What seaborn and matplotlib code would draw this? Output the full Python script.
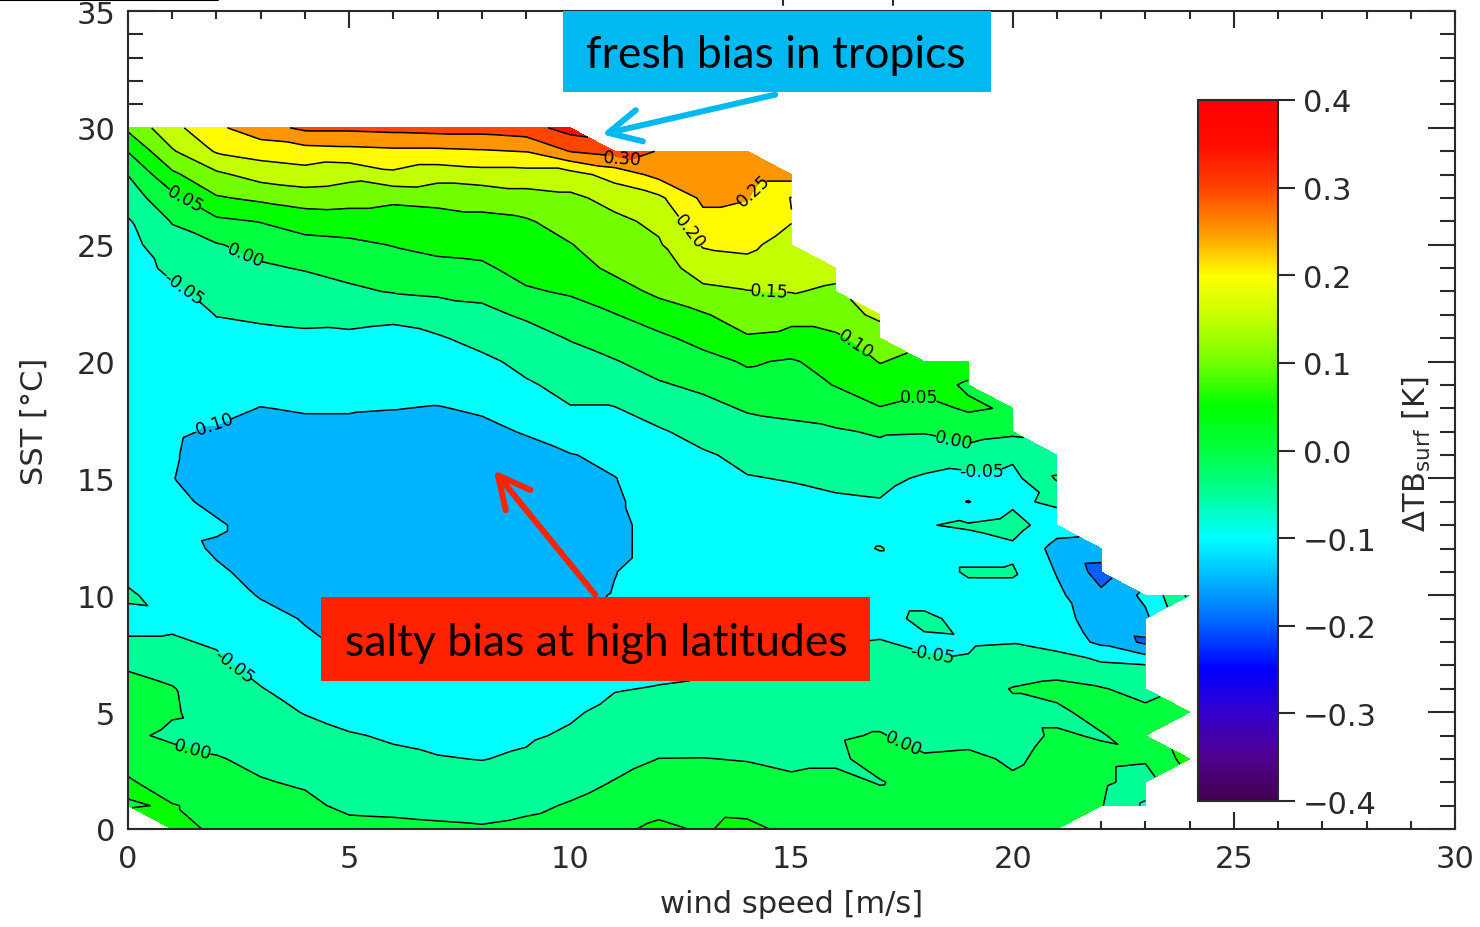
import numpy as np
import matplotlib
matplotlib.use("Agg")
import matplotlib.pyplot as plt
import matplotlib.tri as mtri
from matplotlib.colors import Normalize
from matplotlib.cm import ScalarMappable
from matplotlib.lines import Line2D
from matplotlib.patches import Rectangle, FancyArrowPatch, ArrowStyle
import seaborn as sns

nan = np.nan

# ---------------- data ----------------
wind_speed = list(range(25))          # m/s grid
sst = list(range(31))                 # degC grid

# Delta TB_surf [K] per wind-speed column, SST = 0 .. 30
dtb_w00 = [nan, 0.048, 0.055, 0.035, 0.01, 0.03, 0.015, -0.005, -0.045, -0.065, -0.042, -0.065, -0.075, -0.08, -0.08, -0.085, -0.085, -0.085, -0.085, -0.08, -0.08, -0.08, -0.075, -0.075, -0.07, -0.065, -0.055, -0.025, 0.001, 0.052, 0.11]
dtb_w01 = [0.07, 0.052, 0.03, 0.02, -0.01, 0.005, 0.003, -0.02, -0.045, -0.06, -0.075, -0.08, -0.085, -0.09, -0.09, -0.099, -0.097, -0.095, -0.09, -0.085, -0.08, -0.075, -0.07, -0.058, -0.04, -0.02, 0.003, 0.035, 0.09, 0.145, 0.185]
dtb_w02 = [0.04, 0.04, 0.025, 0.003, -0.015, -0.02, -0.03, -0.04, -0.055, -0.075, -0.085, -0.095, -0.105, -0.095, -0.11, -0.115, -0.115, -0.104, -0.09, -0.08, -0.07, -0.06, -0.049, -0.035, -0.02, -0.003, 0.04, 0.095, 0.14, 0.205, 0.24]
dtb_w03 = [0.035, 0.02, 0.003, -0.01, -0.025, -0.035, -0.048, -0.065, -0.08, -0.09, -0.102, -0.11, -0.115, -0.115, -0.12, -0.12, -0.12, -0.115, -0.101, -0.085, -0.07, -0.058, -0.045, -0.025, -0.006, 0.015, 0.052, 0.11, 0.17, 0.22, 0.28]
dtb_w04 = [0.025, 0.01, -0.005, -0.02, -0.035, -0.052, -0.07, -0.085, -0.095, -0.102, -0.115, -0.12, -0.12, -0.12, -0.12, -0.12, -0.115, -0.11, -0.097, -0.08, -0.07, -0.055, -0.043, -0.02, 0.003, 0.035, 0.07, 0.125, 0.18, 0.23, 0.31]
dtb_w05 = [0.015, -0.01, -0.02, -0.035, -0.048, -0.06, -0.075, -0.09, -0.105, -0.115, -0.12, -0.125, -0.125, -0.125, -0.125, -0.125, -0.12, -0.11, -0.097, -0.08, -0.07, -0.056, -0.04, -0.008, 0.015, 0.04, 0.075, 0.12, 0.165, 0.235, 0.31]
dtb_w06 = [0.012, -0.012, -0.03, -0.045, -0.053, -0.07, -0.08, -0.09, -0.11, -0.12, -0.125, -0.13, -0.13, -0.13, -0.13, -0.125, -0.12, -0.115, -0.099, -0.085, -0.075, -0.06, -0.043, 0.003, 0.027, 0.052, 0.075, 0.11, 0.19, 0.24, 0.315]
dtb_w07 = [0.008, -0.015, -0.035, -0.048, -0.06, -0.07, -0.08, -0.09, -0.11, -0.12, -0.125, -0.13, -0.13, -0.13, -0.13, -0.13, -0.12, -0.115, -0.102, -0.085, -0.07, -0.055, -0.025, 0.008, 0.04, 0.06, 0.08, 0.115, 0.17, 0.24, 0.32]
dtb_w08 = [0.005, -0.02, -0.035, -0.051, -0.06, -0.07, -0.08, -0.09, -0.108, -0.12, -0.125, -0.13, -0.135, -0.135, -0.13, -0.13, -0.12, -0.11, -0.095, -0.075, -0.06, -0.035, -0.012, 0.012, 0.043, 0.065, 0.09, 0.115, 0.18, 0.245, 0.32]
dtb_w09 = [0.012, -0.01, -0.03, -0.045, -0.055, -0.065, -0.075, -0.09, -0.105, -0.115, -0.12, -0.125, -0.13, -0.13, -0.13, -0.125, -0.115, -0.097, -0.08, -0.055, -0.038, -0.02, 0.007, 0.045, 0.065, 0.08, 0.095, 0.13, 0.18, 0.252, 0.33]
dtb_w10 = [0.02, 0.004, -0.016, -0.03, -0.045, -0.055, -0.07, -0.085, -0.101, -0.105, -0.11, -0.12, -0.125, -0.125, -0.125, -0.12, -0.102, -0.075, -0.052, -0.038, -0.02, 0.003, 0.03, 0.055, 0.08, 0.098, 0.12, 0.14, 0.18, 0.302, 0.37]
dtb_w11 = [0.04, 0.02, 0.002, -0.015, -0.03, -0.04, -0.052, -0.065, -0.08, -0.095, -0.098, -0.101, -0.11, -0.11, -0.105, -0.101, -0.09, -0.07, -0.052, -0.025, -0.003, 0.025, 0.048, 0.08, 0.11, 0.125, 0.14, 0.165, 0.22, 0.32, nan]
dtb_w12 = [0.06, 0.035, 0.02, 0.0005, -0.02, -0.035, -0.048, -0.06, -0.07, -0.08, -0.085, -0.085, -0.085, -0.085, -0.085, -0.085, -0.07, -0.055, -0.03, -0.005, 0.02, 0.04, 0.075, 0.11, 0.13, 0.145, 0.16, 0.19, 0.265, 0.298, nan]
dtb_w13 = [0.045, 0.035, 0.02, 0.001, -0.02, -0.03, -0.045, -0.055, -0.07, -0.08, -0.085, -0.085, -0.085, -0.085, -0.08, -0.07, -0.055, -0.035, -0.015, 0.01, 0.035, 0.065, 0.095, 0.14, 0.17, 0.205, 0.235, 0.26, 0.27, 0.28, nan]
dtb_w14 = [0.065, 0.03, 0.015, -0.002, -0.015, -0.025, -0.035, -0.048, -0.065, -0.08, -0.085, -0.085, -0.08, -0.075, -0.065, -0.052, -0.04, -0.02, 0.005, 0.035, 0.055, 0.095, 0.125, 0.148, 0.185, 0.21, 0.235, 0.252, 0.27, 0.28, nan]
dtb_w15 = [0.035, 0.025, 0.008, -0.01, -0.015, -0.02, -0.03, -0.045, -0.06, -0.075, -0.08, -0.08, -0.075, -0.07, -0.06, -0.048, -0.03, -0.01, 0.01, 0.03, 0.045, 0.09, 0.11, 0.152, 0.165, 0.18, 0.202, 0.198, 0.27, nan, nan]
dtb_w16 = [0.035, 0.03, 0.015, -0.01, -0.005, -0.015, -0.025, -0.035, -0.052, -0.07, -0.08, -0.075, -0.065, -0.07, -0.055, -0.042, -0.025, -0.005, 0.025, 0.052, 0.07, 0.09, 0.13, 0.145, 0.16, nan, nan, nan, nan, nan, nan]
dtb_w17 = [0.03, 0.02, -0.003, 0.02, 0.003, -0.015, -0.025, -0.035, -0.048, -0.065, -0.07, -0.068, -0.048, -0.065, -0.052, -0.04, -0.015, 0.005, 0.048, 0.075, 0.102, 0.125, 0.16, nan, nan, nan, nan, nan, nan, nan, nan]
dtb_w18 = [0.03, 0.025, 0.02, 0.005, -0.015, -0.02, -0.03, -0.04, -0.058, -0.04, -0.07, -0.07, -0.07, -0.052, -0.07, -0.055, -0.03, 0.003, 0.035, 0.065, 0.085, nan, nan, nan, nan, nan, nan, nan, nan, nan, nan]
dtb_w19 = [0.03, 0.025, 0.02, 0.008, -0.012, -0.01, -0.02, -0.045, -0.055, -0.065, -0.065, -0.045, -0.07, -0.045, -0.102, -0.065, -0.02, 0.02, 0.056, 0.045, 0.07, nan, nan, nan, nan, nan, nan, nan, nan, nan, nan]
dtb_w20 = [0.03, 0.02, 0.005, -0.005, -0.01, -0.008, 0.002, -0.025, -0.052, -0.07, -0.065, -0.045, -0.06, -0.03, -0.06, -0.065, -0.04, 0.01, 0.045, nan, nan, nan, nan, nan, nan, nan, nan, nan, nan, nan, nan]
dtb_w21 = [0.03, 0.02, 0.015, 0.01, 0.004, -0.008, 0.012, -0.02, -0.07, -0.085, -0.09, -0.103, -0.115, -0.08, -0.04, 0.005, -0.03, nan, nan, nan, nan, nan, nan, nan, nan, nan, nan, nan, nan, nan, nan]
dtb_w22 = [nan, 0.003, 0.01, 0.01, -0.003, 0.015, 0.003, -0.04, -0.11, -0.12, -0.14, -0.17, -0.12, nan, nan, nan, nan, nan, nan, nan, nan, nan, nan, nan, nan, nan, nan, nan, nan, nan, nan]
dtb_w23 = [nan, -0.058, -0.02, 0.005, 0.02, 0.01, -0.015, -0.048, -0.16, -0.11, -0.09, nan, nan, nan, nan, nan, nan, nan, nan, nan, nan, nan, nan, nan, nan, nan, nan, nan, nan, nan, nan]
dtb_w24 = [nan, nan, nan, 0.07, nan, 0.03, nan, nan, nan, nan, 0.01, nan, nan, nan, nan, nan, nan, nan, nan, nan, nan, nan, nan, nan, nan, nan, nan, nan, nan, nan, nan]

dtb_columns = [dtb_w00, dtb_w01, dtb_w02, dtb_w03, dtb_w04, dtb_w05, dtb_w06, dtb_w07,
               dtb_w08, dtb_w09, dtb_w10, dtb_w11, dtb_w12, dtb_w13, dtb_w14, dtb_w15,
               dtb_w16, dtb_w17, dtb_w18, dtb_w19, dtb_w20, dtb_w21, dtb_w22, dtb_w23, dtb_w24]

contour_levels = [-0.20, -0.15, -0.10, -0.05, 0.00, 0.05, 0.10, 0.15, 0.20, 0.25, 0.30, 0.35, 0.40]
# where the contour values are written (wind speed, SST)
label_positions = [(11.2, 28.9), (14.3, 27.1), (12.6, 25.4), (14.5, 22.9), (16.5, 20.9),
                   (17.9, 18.4), (18.7, 17.0), (19.3, 15.9), (1.3, 27.0), (2.7, 24.8),
                   (1.3, 23.3), (1.9, 17.3), (2.4, 7.0), (1.5, 3.6), (17.6, 4.0), (18.2, 7.8)]
cbar_ticks = [-0.4, -0.3, -0.2, -0.1, 0.0, 0.1, 0.2, 0.3, 0.4]
cbar_tick_labels = ["\u22120.4", "\u22120.3", "\u22120.2", "\u22120.1", "0.0", "0.1", "0.2", "0.3", "0.4"]
# colour stops every 0.05 K from -0.4 to 0.4
cbar_colors = ["#400050", "#500090", "#3300CC", "#0000FF", "#0060FF", "#00B2FF", "#00FFFF",
               "#00FF99", "#00FF40", "#00FF00", "#70FF00", "#C0FF00", "#FFFF00", "#FF9900",
               "#FF4400", "#FF0C00", "#FF0000"]

# ---------------- style ----------------
sns.set_style("ticks")
plt.rcParams["font.family"] = ["DejaVu Sans"]
plt.rcParams["axes.linewidth"] = 1.5
plt.rcParams["contour.negative_linestyle"] = "solid"
TXT = "#2a2a2a"

W_PX, H_PX = 1480, 928
fig = plt.figure(figsize=(W_PX / 100, H_PX / 100), dpi=100)
ax = fig.add_axes([128 / W_PX, 98 / H_PX, 1327 / W_PX, 818 / H_PX])

cmap = sns.blend_palette(cbar_colors, n_colors=256, as_cmap=True)
norm = Normalize(-0.4, 0.4)
band_colors = [cmap(norm(l)) for l in contour_levels[:-1]]

# ---------------- grid triangulation (missing bins left blank) ----------------
Z = np.array(dtb_columns, dtype=float).T          # (sst, wind)
WW, SS = np.meshgrid(np.array(wind_speed, float), np.array(sst, float))
valid = ~np.isnan(Z)
idx = np.arange(Z.size).reshape(Z.shape)
tris = []
for j in range(len(sst) - 1):
    for i in range(len(wind_speed) - 1):
        corners = [(j, i), (j, i + 1), (j + 1, i), (j + 1, i + 1)]
        ok = [valid[c] for c in corners]
        if all(ok):
            tris.append([idx[j, i], idx[j, i + 1], idx[j + 1, i]])
            tris.append([idx[j, i + 1], idx[j + 1, i + 1], idx[j + 1, i]])
        elif sum(ok) == 3:
            tris.append([idx[c] for c, o in zip(corners, ok) if o])
tri = mtri.Triangulation(WW.ravel(), SS.ravel(), triangles=np.array(tris))
zvals = np.where(valid, Z, 0.0).ravel()

ax.tricontourf(tri, zvals, levels=contour_levels, colors=band_colors)
cs = ax.tricontour(tri, zvals, levels=contour_levels, colors="black", linewidths=1.1,
                   linestyles="solid")
ax.clabel(cs, fmt="%.2f", fontsize=12.5, inline=True, inline_spacing=3,
          manual=label_positions)

# ---------------- axes ----------------
ax.set_xlim(0, 30)
ax.set_ylim(0, 35)
ax.set_xticks(range(0, 31, 5))
ax.set_xticks(range(0, 31), minor=True)
ax.set_yticks(range(0, 36, 5))
ax.set_yticks(range(0, 36), minor=True)
ax.tick_params(which="both", direction="in", top=True, right=True, color=TXT, width=1.5,
               labelsize=22, labelcolor=TXT)
ax.tick_params(axis="y", which="major", length=19.5, pad=9)
ax.tick_params(axis="y", which="minor", length=11)
ax.tick_params(axis="x", which="major", length=12, pad=11)
ax.tick_params(axis="x", which="minor", length=5.5)
for s in ax.spines.values():
    s.set_color(TXT)
ax.set_xlabel("wind speed [m/s]", fontsize=22, color=TXT)
ax.xaxis.set_label_coords(0.5, -0.073)
ax.set_ylabel("SST [\u00b0C]", fontsize=22, color=TXT)
ax.yaxis.set_label_coords(-0.060, 0.5)

# ---------------- colour bar ----------------
cax = fig.add_axes([1198 / W_PX, 126 / H_PX, 80 / W_PX, 701 / H_PX])
cb = fig.colorbar(ScalarMappable(norm=norm, cmap=cmap), cax=cax, ticks=cbar_ticks)
cb.set_ticklabels(cbar_tick_labels)
cax.tick_params(direction="out", length=12, width=1.5, color=TXT, labelsize=22,
                labelcolor=TXT, pad=6)
cb.outline.set_edgecolor(TXT)
cb.outline.set_linewidth(1.5)
fig.text(1417 / W_PX, 1 - 454 / H_PX, r"$\Delta$TB$_{\mathrm{surf}}$ [K]", rotation=90,
         ha="center", va="center", fontsize=22, color=TXT)

# ---------------- annotations ----------------
def fx(x):
    return x / W_PX

def fy(y):
    return 1 - y / H_PX

BLUE = "#00B9F1"
RED = "#FF2200"
fig.add_artist(Rectangle((fx(563), fy(93)), fx(991) - fx(563), fy(12) - fy(93),
                         transform=fig.transFigure, facecolor=BLUE, edgecolor="none", zorder=20))
fig.text(fx(776), fy(56), "fresh bias in tropics", ha="center", va="center",
         fontsize=32, family="Lato", color="black", zorder=21)
fig.add_artist(Rectangle((fx(321), fy(682)), fx(870) - fx(321), fy(598) - fy(682),
                         transform=fig.transFigure, facecolor=RED, edgecolor="none", zorder=20))
fig.text(fx(596), fy(643), "salty bias at high latitudes", ha="center", va="center",
         fontsize=32, family="Lato", color="black", zorder=21)

head = ArrowStyle("->", head_length=23, head_width=11.5)
fig.add_artist(FancyArrowPatch((fx(778), fy(95)), (fx(599), fy(136)), transform=fig.transFigure,
                               arrowstyle=head, mutation_scale=1, lw=4.3, color=BLUE,
                               capstyle="round", joinstyle="round", zorder=22))
fig.add_artist(FancyArrowPatch((fx(597), fy(598)), (fx(492), fy(469)), transform=fig.transFigure,
                               arrowstyle=head, mutation_scale=1, lw=4.3, color=RED,
                               capstyle="round", joinstyle="round", zorder=22))

# remnants of the panel above (top edge of the crop)
fig.add_artist(Line2D([0, fx(218)], [fy(1), fy(1)], transform=fig.transFigure, color="black", lw=1.5))
for xt in (783, 893):
    fig.add_artist(Line2D([fx(xt), fx(xt)], [fy(0), fy(6)], transform=fig.transFigure, color=TXT, lw=1.5))

fig.savefig("out.png", dpi=100)
